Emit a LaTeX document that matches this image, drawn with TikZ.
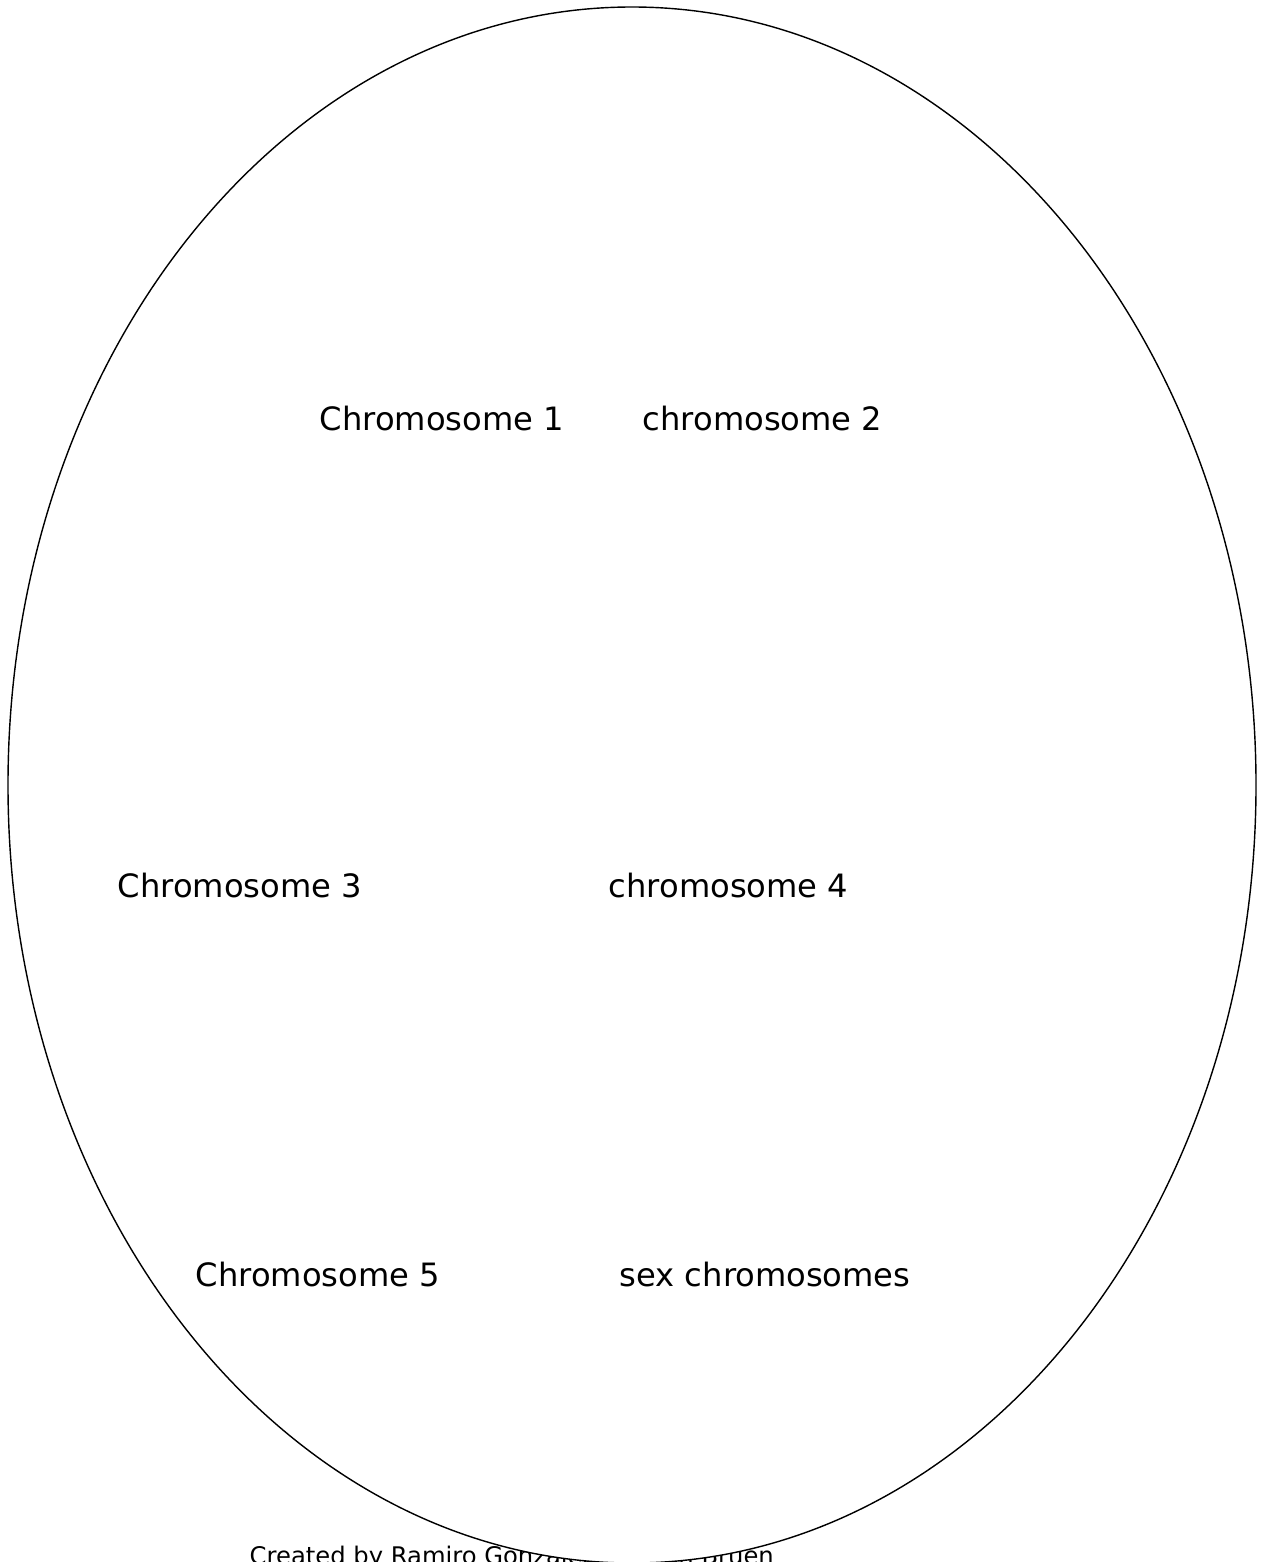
\documentclass[tikz,border=0pt]{standalone}
\usepackage{fontspec}
\setmainfont{DejaVu Sans}
\tikzset{chromname/.style={font=\fontsize{9.15}{11}\selectfont, anchor=base west, inner sep=0pt}}
\tikzset{credit/.style={font=\fontsize{6.9}{8.3}\selectfont, anchor=base west, inner sep=0pt}}

\begin{document}
\begin{tikzpicture}[x=1cm, y=1cm]

		\useasboundingbox (0, 0) rectangle (12.67, -15.62);

		% Credit line, partly under the cell
		\node[credit] (credit) at (2.49, -15.64) {Created by Ramiro Gonzalez and Ian Bruen};

		% Cell
		\draw[line width=0.4pt, fill=white] (6.32, -7.85) ellipse [x radius=6.24, y radius=7.78];
		\coordinate (cell) at (6.32, -7.85);

		% Chromosomes
		\node[chromname] (chr1) at (3.19, -4.30) {Chromosome 1};
		\node[chromname] (chr2) at (6.42, -4.30) {chromosome 2};

		\node[chromname] (chr3) at (1.17, -8.97) {Chromosome 3};
		\node[chromname] (chr4) at (6.08, -8.97) {chromosome 4};

		\node[chromname] (chr5) at (1.95, -12.86) {Chromosome 5};
		\node[chromname] (sex) at (6.19, -12.86) {sex chromosomes};

	\end{tikzpicture}
\end{document}
